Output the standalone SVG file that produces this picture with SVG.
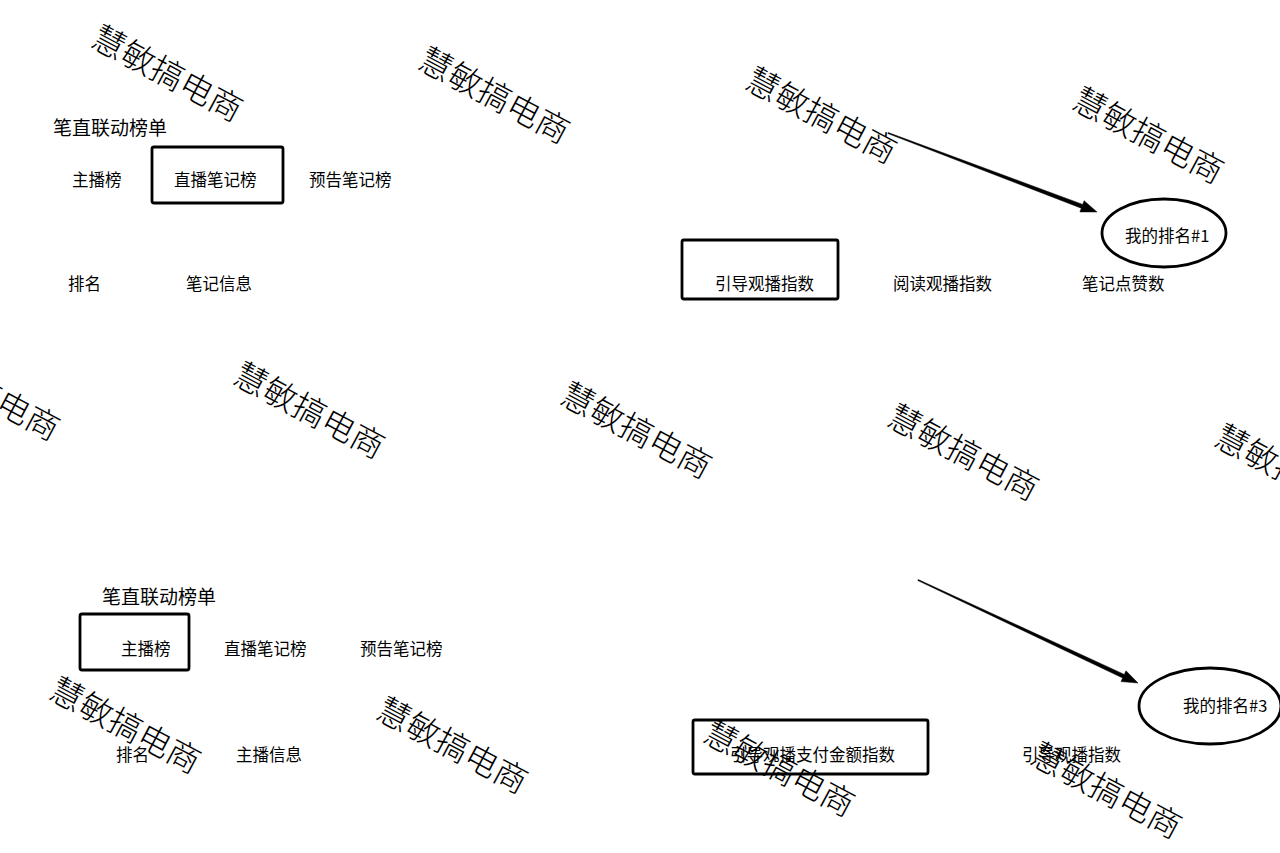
<svg xmlns="http://www.w3.org/2000/svg" width="1280" height="853" viewBox="0 0 1280 853">
<style>
.lbl{font-family:"Noto Sans CJK SC","Noto Sans",sans-serif;font-size:16.5px;fill:#000}
.ttl{font-family:"Noto Sans CJK SC","Noto Sans",sans-serif;font-size:19px;fill:#000}
.box{fill:none;stroke:#000;stroke-width:2.8}
.wm{font-family:"Noto Sans CJK SC",sans-serif;font-size:33px;fill:#000;font-weight:300}
.arr{fill:#000;stroke:#000;stroke-width:0.5;stroke-linejoin:miter}
</style>
<rect width="1280" height="853" fill="#fff"/>

<g id="top-title"><text class="ttl" x="53" y="135">笔直联动榜单</text></g>
<g id="top-tab-anchor"><text class="lbl" x="72" y="186">主播榜</text></g>
<g id="top-tab-note"><rect class="box" x="152" y="147" width="131" height="56" rx="2"/><text class="lbl" x="174" y="186">直播笔记榜</text></g>
<g id="top-tab-preview"><text class="lbl" x="309" y="186">预告笔记榜</text></g>
<g id="top-rank"><text class="lbl" x="68" y="290">排名</text></g>
<g id="top-noteinfo"><text class="lbl" x="186" y="290">笔记信息</text></g>
<g id="top-guide"><rect class="box" x="682" y="240" width="156" height="59" rx="2"/><text class="lbl" x="715" y="290">引导观播指数</text></g>
<g id="top-read"><text class="lbl" x="893" y="290">阅读观播指数</text></g>
<g id="top-like"><text class="lbl" x="1082" y="290">笔记点赞数</text></g>
<g id="top-myrank"><ellipse class="box" cx="1164" cy="233" rx="62" ry="34"/><text class="lbl" x="1125" y="242">我的排名#1</text></g>

<g id="bot-title"><text class="ttl" x="102" y="604">笔直联动榜单</text></g>
<g id="bot-tab-anchor"><rect class="box" x="80" y="614" width="109" height="56" rx="2"/><text class="lbl" x="121" y="655">主播榜</text></g>
<g id="bot-tab-note"><text class="lbl" x="224" y="655">直播笔记榜</text></g>
<g id="bot-tab-preview"><text class="lbl" x="360" y="655">预告笔记榜</text></g>
<g id="bot-rank"><text class="lbl" x="116" y="761">排名</text></g>
<g id="bot-anchorinfo"><text class="lbl" x="236" y="761">主播信息</text></g>
<g id="bot-guidepay"><rect class="box" x="693" y="720" width="235" height="54" rx="2"/><text class="lbl" x="730" y="761">引导观播支付金额指数</text></g>
<g id="bot-guide"><text class="lbl" x="1022" y="761">引导观播指数</text></g>
<g id="bot-myrank"><ellipse class="box" cx="1210" cy="706" rx="71" ry="38"/><text class="lbl" x="1183" y="712">我的排名#3</text></g>

<g id="connectors">
<polygon class="arr" points="888.2,132.5 1082.7,204.4 1084.1,200.7 1097,212 1079.9,211.9 1081.3,208.2 887.8,133.5"/>
<polygon class="arr" points="918.2,579.5 1124.3,674.4 1126,670.8 1138,683 1121,681.6 1122.7,678 917.8,580.5"/>
</g>

<g id="watermarks">
<text class="wm" x="89" y="45" transform="rotate(28 89 45)">慧敏搞电商</text>
<text class="wm" x="416" y="67" transform="rotate(28 416 67)">慧敏搞电商</text>
<text class="wm" x="743" y="87" transform="rotate(28 743 87)">慧敏搞电商</text>
<text class="wm" x="1070" y="107" transform="rotate(28 1070 107)">慧敏搞电商</text>
<text class="wm" x="-94" y="364" transform="rotate(28 -94 364)">慧敏搞电商</text>
<text class="wm" x="231" y="382" transform="rotate(28 231 382)">慧敏搞电商</text>
<text class="wm" x="558" y="402" transform="rotate(28 558 402)">慧敏搞电商</text>
<text class="wm" x="885" y="424" transform="rotate(28 885 424)">慧敏搞电商</text>
<text class="wm" x="1212" y="444" transform="rotate(28 1212 444)">慧敏搞电商</text>
<text class="wm" x="47" y="697" transform="rotate(28 47 697)">慧敏搞电商</text>
<text class="wm" x="374" y="717" transform="rotate(28 374 717)">慧敏搞电商</text>
<text class="wm" x="701" y="740" transform="rotate(28 701 740)">慧敏搞电商</text>
<text class="wm" x="1028" y="762" transform="rotate(28 1028 762)">慧敏搞电商</text>
</g>
</svg>
